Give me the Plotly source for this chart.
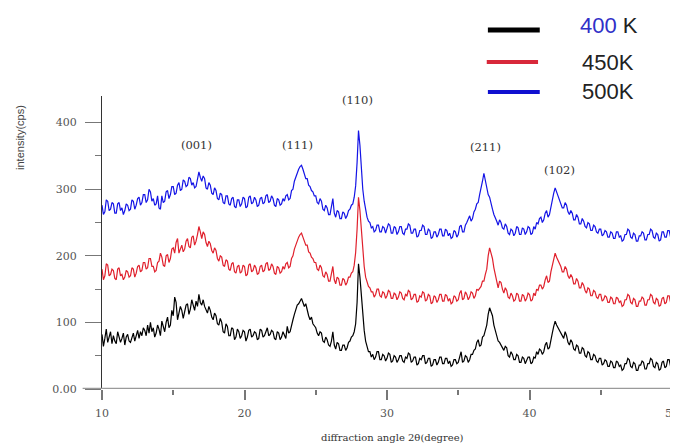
import plotly.graph_objects as go

# Sampling of the diffraction angle (degrees)
angle_start = 10.0
angle_step = 0.1

series_names = ["400 K", "450K", "500K"]

# intensity (cps), one value per 0.1 degree from 10 to 50
int_400K = [
    82, 64, 76, 90, 70, 80, 86, 68, 80, 72,
    68, 86, 78, 70, 76, 84, 66, 78, 82, 72,
    70, 78, 84, 72, 80, 88, 76, 86, 80, 92,
    88, 80, 96, 84, 100, 86, 92, 78, 84, 96,
    90, 80, 102, 94, 86, 100, 108, 92, 96, 118,
    110, 138, 130, 104, 112, 124, 118, 106, 116, 126,
    128, 112, 120, 134, 126, 118, 132, 124, 142, 130,
    126, 134, 124, 120, 114, 124, 118, 108, 104, 114,
    110, 98, 96, 106, 100, 86, 84, 98, 94, 80,
    80, 92, 90, 74, 78, 90, 86, 76, 80, 88,
    86, 72, 78, 88, 90, 78, 80, 86, 84, 74,
    76, 90, 88, 78, 80, 86, 92, 80, 82, 88,
    86, 76, 74, 86, 84, 74, 78, 86, 82, 76,
    94, 84, 86, 98, 104, 112, 118, 126, 128, 132,
    136, 130, 124, 128, 118, 110, 104, 108, 98, 94,
    92, 84, 80, 86, 84, 72, 70, 78, 74, 66,
    64, 72, 86, 66, 60, 70, 68, 58, 58, 66,
    66, 58, 62, 70, 72, 78, 80, 86, 98, 130,
    188, 168, 140, 112, 88, 72, 62, 56, 56, 48,
    52, 44, 48, 56, 56, 44, 44, 52, 50, 42,
    46, 54, 52, 40, 42, 50, 48, 40, 44, 50,
    50, 42, 40, 48, 46, 54, 52, 40, 42, 48,
    48, 36, 38, 46, 44, 50, 50, 38, 40, 46,
    46, 34, 36, 44, 44, 36, 40, 48, 48, 38,
    38, 46, 46, 38, 42, 34, 36, 44, 44, 38,
    40, 48, 56, 40, 42, 50, 48, 40, 44, 52,
    52, 58, 60, 70, 74, 64, 66, 78, 80, 88,
    96, 112, 122, 116, 110, 96, 88, 80, 72, 70,
    66, 60, 58, 64, 62, 50, 48, 56, 52, 44,
    44, 52, 50, 40, 40, 48, 46, 38, 42, 48,
    48, 38, 40, 48, 46, 56, 52, 60, 58, 52,
    56, 66, 70, 60, 62, 76, 84, 94, 102, 96,
    92, 86, 84, 78, 76, 86, 80, 70, 66, 74,
    70, 60, 58, 66, 64, 54, 54, 62, 60, 50,
    48, 56, 54, 44, 44, 52, 50, 42, 40, 46,
    46, 36, 38, 44, 42, 34, 34, 42, 40, 32,
    32, 42, 40, 34, 36, 28, 30, 38, 38, 46,
    44, 34, 32, 40, 38, 28, 28, 36, 36, 42,
    40, 30, 30, 38, 38, 46, 44, 34, 32, 40,
    38, 28, 30, 40, 42, 32, 34, 44, 44, 34,
    36,
]
int_450K = [
    180, 164, 170, 188, 186, 170, 172, 180, 178, 166,
    164, 180, 182, 170, 172, 164, 168, 178, 176, 168,
    170, 182, 180, 168, 174, 184, 186, 176, 178, 190,
    190, 180, 182, 196, 196, 184, 184, 176, 178, 190,
    192, 204, 198, 186, 184, 200, 202, 190, 196, 210,
    212, 204, 220, 226, 204, 212, 216, 206, 210, 222,
    226, 214, 212, 228, 230, 216, 222, 232, 244, 236,
    226, 236, 232, 220, 214, 222, 218, 208, 204, 212,
    208, 196, 192, 200, 198, 186, 184, 194, 192, 180,
    178, 188, 190, 176, 174, 184, 186, 174, 176, 186,
    184, 170, 172, 186, 188, 176, 178, 186, 182, 172,
    174, 184, 186, 176, 178, 188, 190, 178, 180, 188,
    184, 174, 172, 184, 182, 174, 176, 184, 180, 188,
    190, 182, 184, 196, 200, 210, 216, 224, 228, 232,
    234, 228, 222, 216, 216, 206, 204, 198, 196, 190,
    190, 180, 178, 186, 182, 170, 168, 176, 172, 162,
    162, 172, 184, 164, 158, 168, 166, 156, 156, 166,
    164, 156, 160, 168, 168, 174, 176, 186, 205, 240,
    288, 268, 236, 206, 184, 168, 160, 154, 152, 146,
    146, 138, 142, 150, 150, 140, 138, 146, 144, 136,
    140, 148, 146, 136, 136, 144, 142, 134, 138, 146,
    144, 136, 134, 142, 140, 148, 146, 134, 136, 142,
    142, 130, 132, 140, 138, 146, 144, 132, 134, 142,
    140, 128, 130, 140, 138, 130, 134, 142, 142, 132,
    132, 142, 140, 132, 136, 128, 130, 140, 138, 132,
    134, 144, 148, 134, 136, 146, 142, 134, 138, 146,
    144, 136, 140, 150, 148, 152, 154, 162, 162, 172,
    180, 200, 212, 204, 196, 182, 170, 160, 152, 162,
    160, 150, 144, 152, 148, 138, 136, 144, 140, 132,
    134, 144, 142, 132, 132, 142, 140, 132, 136, 144,
    142, 132, 134, 144, 140, 150, 148, 156, 156, 150,
    154, 164, 170, 160, 162, 176, 184, 196, 204, 198,
    194, 188, 184, 176, 176, 184, 180, 170, 166, 172,
    168, 158, 158, 166, 162, 152, 152, 160, 156, 148,
    144, 152, 150, 140, 140, 148, 146, 138, 136, 142,
    142, 132, 134, 140, 138, 130, 130, 138, 136, 128,
    128, 138, 136, 130, 132, 124, 126, 134, 134, 142,
    140, 130, 128, 136, 134, 124, 124, 132, 132, 138,
    136, 126, 126, 134, 134, 142, 140, 130, 128, 136,
    134, 124, 126, 136, 138, 128, 130, 140, 140, 130,
    132,
]
int_500K = [
    276, 262, 266, 284, 282, 268, 270, 280, 278, 264,
    264, 278, 280, 268, 272, 262, 268, 278, 276, 268,
    270, 284, 282, 270, 276, 286, 288, 276, 280, 292,
    292, 280, 284, 300, 296, 282, 286, 276, 278, 290,
    272, 270, 290, 280, 282, 296, 298, 286, 292, 304,
    304, 292, 294, 306, 310, 298, 300, 314, 312, 304,
    306, 318, 316, 306, 310, 302, 304, 316, 326, 318,
    312, 320, 316, 302, 300, 310, 306, 294, 292, 302,
    298, 286, 284, 294, 292, 280, 278, 290, 290, 278,
    276, 286, 288, 274, 272, 284, 284, 274, 278, 288,
    286, 272, 274, 288, 290, 278, 280, 288, 284, 274,
    276, 286, 288, 278, 280, 290, 292, 280, 282, 290,
    286, 276, 274, 286, 284, 276, 278, 286, 282, 290,
    292, 284, 286, 298, 300, 312, 318, 326, 330, 334,
    336, 330, 322, 316, 316, 306, 304, 298, 296, 290,
    290, 280, 278, 286, 282, 270, 268, 276, 272, 262,
    262, 272, 286, 264, 258, 268, 266, 256, 256, 266,
    264, 256, 260, 268, 270, 276, 278, 288, 305, 340,
    388, 366, 330, 300, 282, 266, 258, 252, 250, 242,
    244, 236, 238, 246, 246, 236, 236, 244, 242, 234,
    240, 248, 246, 234, 234, 244, 242, 232, 236, 244,
    244, 234, 232, 240, 240, 248, 246, 234, 234, 240,
    240, 228, 230, 238, 238, 246, 244, 232, 232, 240,
    238, 226, 228, 236, 236, 228, 232, 240, 240, 230,
    230, 240, 238, 230, 234, 226, 228, 238, 236, 228,
    232, 244, 246, 236, 236, 246, 250, 256, 260, 252,
    256, 266, 270, 278, 280, 292, 300, 312, 324, 312,
    298, 292, 288, 276, 270, 262, 258, 252, 246, 254,
    250, 242, 240, 248, 244, 234, 232, 240, 238, 230,
    234, 244, 242, 232, 232, 242, 240, 232, 236, 244,
    242, 232, 234, 244, 240, 250, 248, 256, 258, 250,
    254, 264, 268, 258, 262, 274, 282, 294, 302, 296,
    290, 284, 280, 272, 272, 280, 276, 266, 262, 268,
    264, 254, 254, 262, 258, 248, 248, 256, 252, 244,
    242, 250, 248, 238, 238, 246, 244, 236, 234, 240,
    240, 230, 232, 238, 236, 228, 228, 236, 234, 226,
    226, 236, 236, 228, 230, 222, 224, 232, 232, 240,
    238, 228, 226, 234, 232, 222, 222, 230, 230, 236,
    234, 224, 224, 232, 232, 240, 238, 228, 226, 234,
    232, 222, 224, 236, 236, 228, 228, 238, 238, 228,
    230,
]

peak_labels = ["(001)", "(111)", "(110)", "(211)", "(102)"]
peak_label_x = [16.6, 23.75, 27.9, 36.9, 42.1]
peak_label_y = [366, 366, 434, 363, 329]

x_tick_vals = [10, 20, 30, 40, 50]
y_tick_vals = [0, 100, 200, 300, 400]
y_tick_text = ["0.00", "100", "200", "300", "400"]

colors = ["#000000", "#e0202c", "#1414e6"]

fig = go.Figure()
for name, vals, col in zip(series_names, [int_400K, int_450K, int_500K], colors):
    fig.add_trace(go.Scatter(
        x0=angle_start, dx=angle_step, y=vals, mode="lines", name=name,
        line=dict(color=col, width=1.2), showlegend=False,
    ))

serif = "DejaVu Serif"

annotations = []
for lab, lx, ly in zip(peak_labels, peak_label_x, peak_label_y):
    annotations.append(dict(x=lx, y=ly, xref="x", yref="y", text=lab, showarrow=False,
                            xanchor="center", yanchor="middle",
                            font=dict(family=serif, size=11.5, color="#333")))

# axis titles
annotations.append(dict(x=0.509, y=-0.164, xref="paper", yref="paper", showarrow=False,
                        xanchor="center", yanchor="middle",
                        text="diffraction angle 2θ(degree)",
                        font=dict(family=serif, size=10, color="#333")))
annotations.append(dict(x=-0.144, y=0.86, xref="paper", yref="paper", showarrow=False,
                        xanchor="center", yanchor="middle",
                        text="intensity(cps)", textangle=-90,
                        font=dict(family="Liberation Sans", size=11, color="#444")))

# legend texts
leg_font = dict(family="Liberation Sans", size=22, color="#222")
annotations.append(dict(x=0.835, y=1.242, xref="paper", yref="paper", showarrow=False,
                        xanchor="left", yanchor="middle",
                        text="<span style='color:#3030c8'>400</span> K", font=leg_font))
annotations.append(dict(x=0.839, y=1.116, xref="paper", yref="paper", showarrow=False,
                        xanchor="left", yanchor="middle", text="450K", font=leg_font))
annotations.append(dict(x=0.839, y=1.014, xref="paper", yref="paper", showarrow=False,
                        xanchor="left", yanchor="middle", text="500K", font=leg_font))

shapes = [
    # x axis line extending left past the y axis
    dict(type="line", xref="paper", yref="y", x0=-0.034, x1=1.011, y0=0, y1=0,
         line=dict(color="#9a9a9a", width=2.5)),
    # legend lines
    dict(type="line", xref="paper", yref="paper", x0=0.677, x1=0.768, y0=1.225, y1=1.225,
         line=dict(color="#000000", width=5)),
    dict(type="line", xref="paper", yref="paper", x0=0.675, x1=0.765, y0=1.116, y1=1.116,
         line=dict(color="#d8283a", width=4)),
    dict(type="line", xref="paper", yref="paper", x0=0.677, x1=0.768, y0=1.014, y1=1.014,
         line=dict(color="#1010d0", width=4)),
]

# the page body adds an 8px offset, so the figure is 8px smaller than the window
fig.update_layout(
    width=670, height=439,
    margin=dict(l=94, r=6, t=88, b=58, autoexpand=False),
    paper_bgcolor="white", plot_bgcolor="white",
    annotations=annotations, shapes=shapes,
    xaxis=dict(range=[10, 50], tickvals=x_tick_vals, showline=False, showgrid=False, zeroline=False,
               automargin=False, ticklabelstandoff=4, ticklabeloverflow="allow",
               ticks="outside", ticklen=10, tickwidth=1.5, tickcolor="#777",
               minor=dict(ticks="outside", ticklen=5, dtick=5, tick0=10, tickcolor="#777", showgrid=False),
               tickfont=dict(family=serif, size=11, color="#555")),
    yaxis=dict(range=[0, 440], tickvals=y_tick_vals, ticktext=y_tick_text, showline=True,
               automargin=False, ticklabelstandoff=6,
               linecolor="#333", linewidth=1, showgrid=False, zeroline=False,
               ticks="outside", ticklen=16, tickwidth=1, tickcolor="#777",
               minor=dict(ticks="outside", ticklen=6, dtick=50, tick0=0, tickcolor="#777", showgrid=False),
               tickfont=dict(family=serif, size=11, color="#555")),
)

fig.write_html("out.html")
